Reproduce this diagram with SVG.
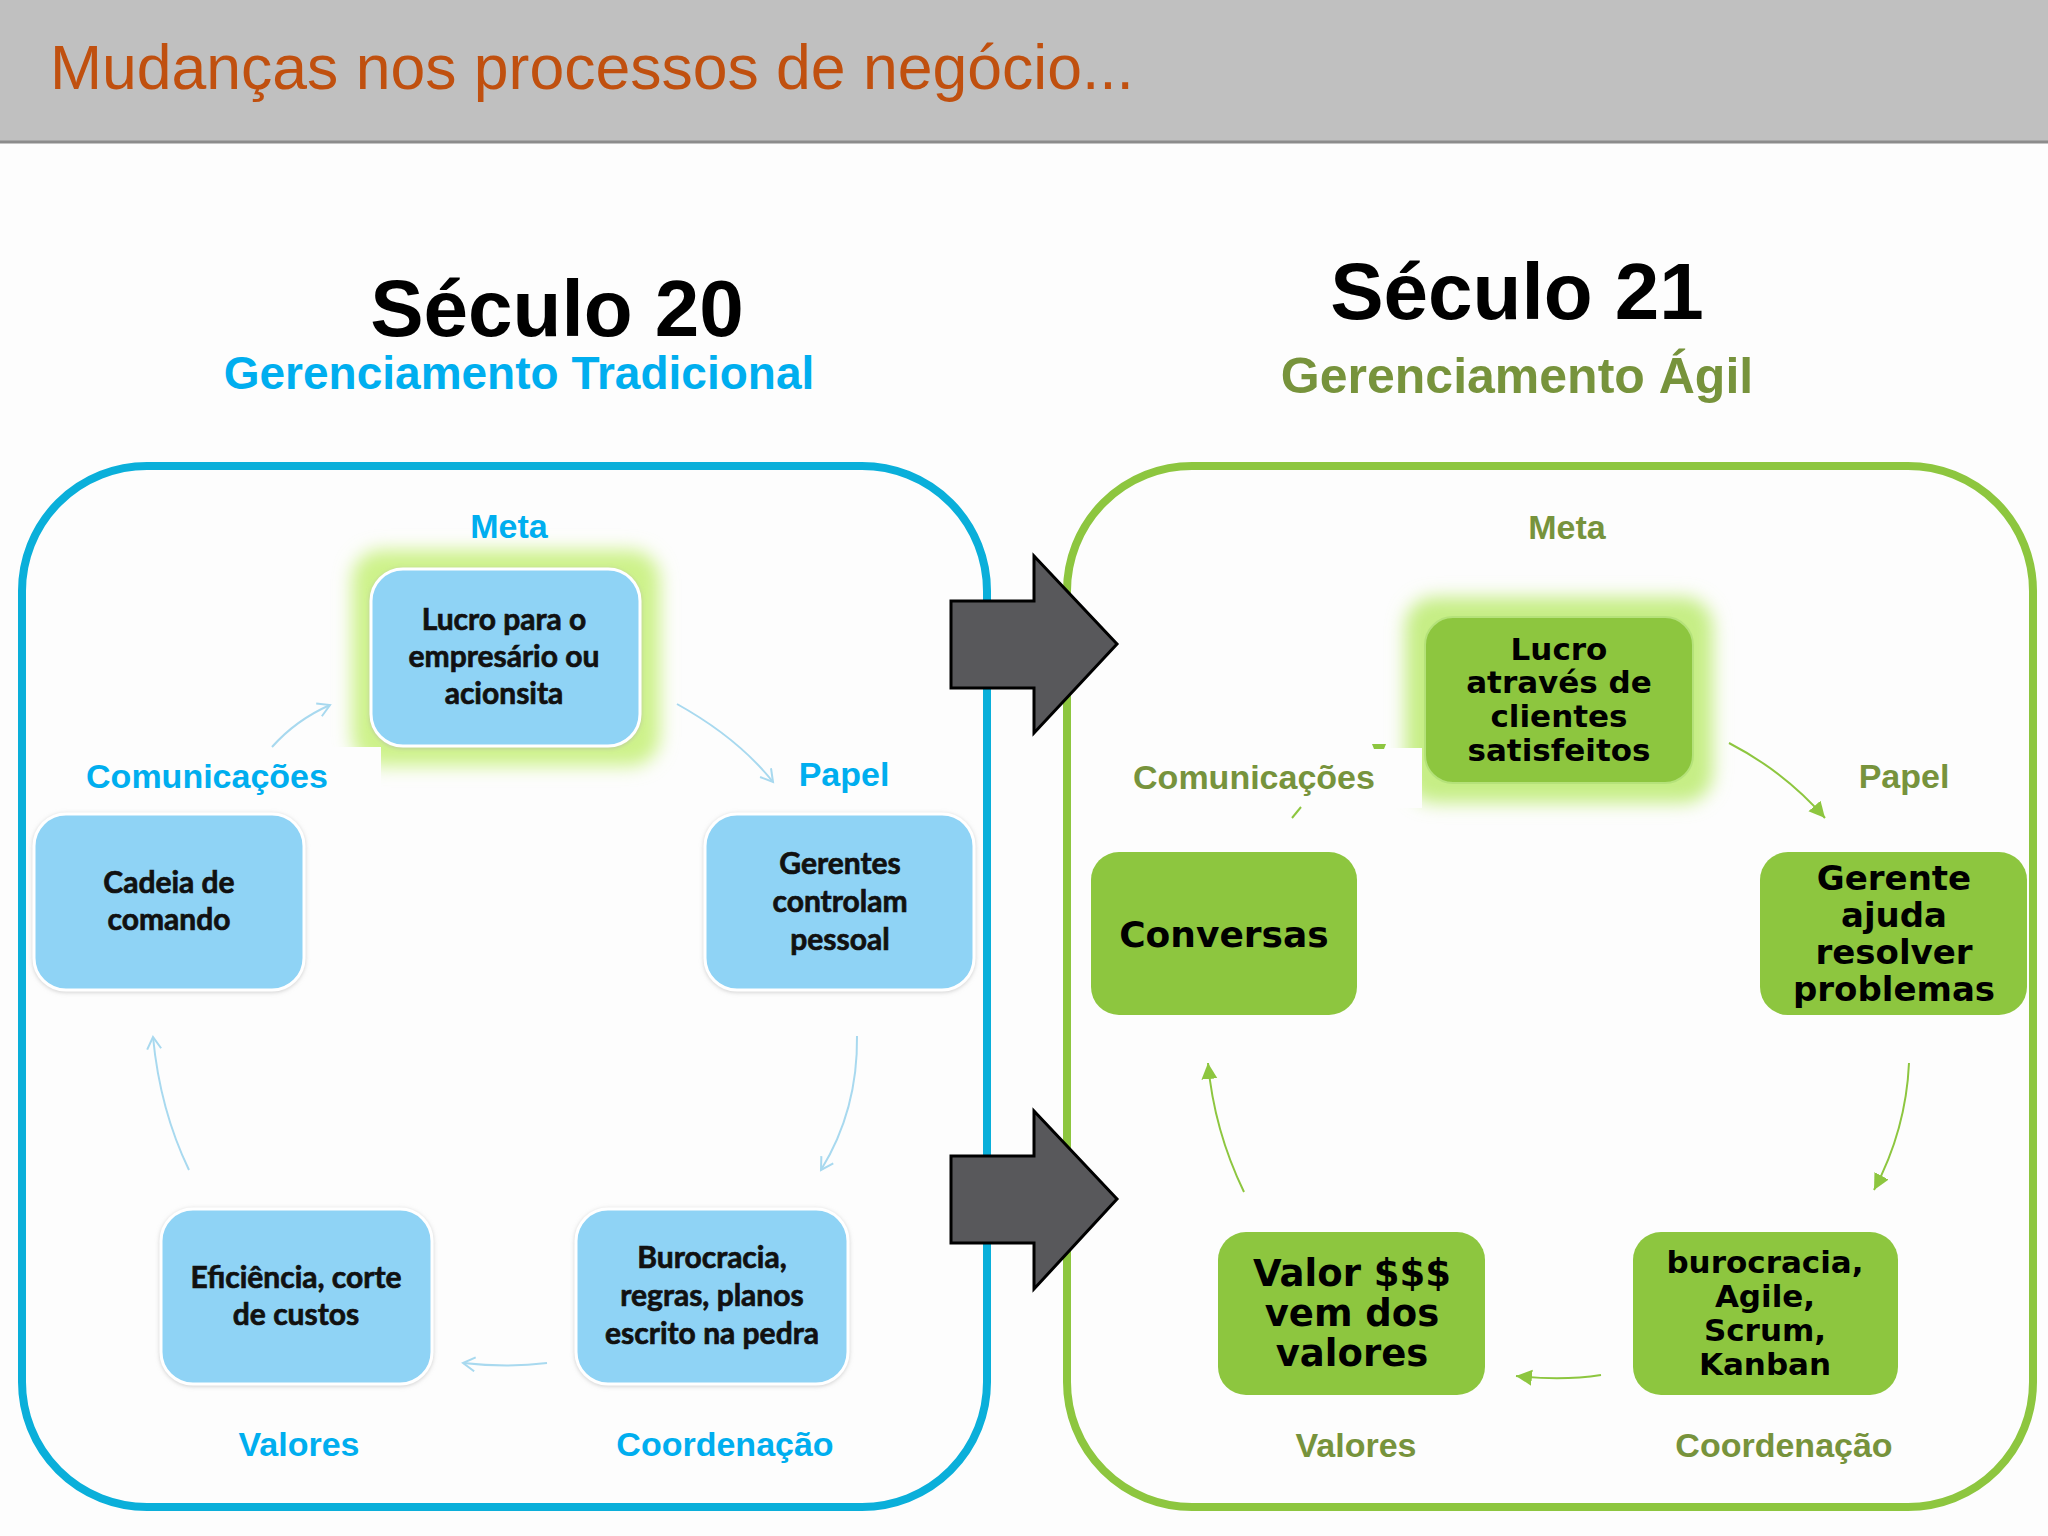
<svg xmlns="http://www.w3.org/2000/svg" width="2048" height="1536" viewBox="0 0 2048 1536">
<defs>
<style>
.ttl{font-family:"Liberation Sans",Arial,sans-serif;font-weight:bold;text-anchor:middle}
.lbB{font-family:"Liberation Sans",Arial,sans-serif;font-weight:bold;font-size:34px;fill:#00AEEF;text-anchor:middle}
.lbG{font-family:"Liberation Sans",Arial,sans-serif;font-weight:bold;font-size:34px;fill:#77933C;text-anchor:middle}
.nB{fill:#8FD3F5;stroke:#ffffff;stroke-width:3}
.nG{fill:#8DC63F}
.tB{font-family:Lato,"Open Sans",sans-serif;font-weight:bold;font-size:30px;fill:#111;stroke:#111;stroke-width:0.7;text-anchor:middle}
.tG{font-family:"DejaVu Sans",sans-serif;font-weight:bold;fill:#000;text-anchor:middle}
.cB{fill:none;stroke:#A8D9EF;stroke-width:2}
.cG{fill:none;stroke:#8DC63F;stroke-width:2}
.big{fill:#58585B;stroke:#000;stroke-width:3;stroke-linejoin:miter}
</style>
<filter id="glow" x="-30%" y="-30%" width="160%" height="160%"><feGaussianBlur stdDeviation="9"/></filter>
<filter id="sh" x="-10%" y="-10%" width="120%" height="120%"><feDropShadow dx="0" dy="1" stdDeviation="2" flood-color="#b0b0b0" flood-opacity="0.6"/></filter>
<marker id="aO" markerUnits="userSpaceOnUse" markerWidth="20" markerHeight="20" refX="14" refY="8" orient="auto"><path d="M2,1 L14,8 L2,15" fill="none" stroke="#A8D9EF" stroke-width="2"/></marker>
<marker id="aF" markerUnits="userSpaceOnUse" markerWidth="20" markerHeight="20" refX="16" refY="8" orient="auto"><path d="M0,0 L16,8 L0,16 Z" fill="#8DC63F"/></marker>
</defs>
<rect width="2048" height="1536" fill="#FDFDFD"/>
<!-- header -->
<rect x="0" y="0" width="2048" height="142" fill="#C0C0C0"/>
<line x1="0" y1="142" x2="2048" y2="142" stroke="#8C8C8C" stroke-width="3"/>
<text x="50" y="89" font-family="Liberation Sans,Arial,sans-serif" font-size="62.5" fill="#C0500F">Mudanças nos processos de negócio...</text>
<!-- titles -->
<text class="ttl" x="557" y="336" font-size="80" fill="#000">Século 20</text>
<text class="ttl" x="519" y="389" font-size="46" fill="#00AEEF">Gerenciamento Tradicional</text>
<text class="ttl" x="1517" y="319" font-size="80" fill="#000">Século 21</text>
<text class="ttl" x="1517" y="393" font-size="50" fill="#77933C">Gerenciamento Ágil</text>
<!-- containers -->
<rect x="22" y="466" width="965" height="1041" rx="125" ry="125" fill="none" stroke="#0AAFDA" stroke-width="8"/>
<rect x="1067" y="466" width="966" height="1041" rx="125" ry="125" fill="none" stroke="#8DC63F" stroke-width="8"/>
<!-- big arrows -->
<g id="arrow1"><path class="big" d="M951,601 L1034,601 L1034,556 L1117,644 L1034,733 L1034,688 L951,688 Z"/></g>
<g id="arrow2"><path class="big" d="M951,1156 L1034,1156 L1034,1111 L1117,1199 L1034,1289 L1034,1243 L951,1243 Z"/></g>
<!-- glows -->
<rect x="352" y="550" width="308" height="216" rx="30" fill="#CDF28A" filter="url(#glow)"/>
<rect x="1405" y="597" width="308" height="206" rx="30" fill="#C6EE85" filter="url(#glow)"/>
<rect x="70" y="747" width="311" height="60" fill="#FDFDFD"/>
<rect x="1100" y="748" width="322" height="60" fill="#FDFDFD"/>
<path d="M1372,744 L1386,744 L1384,749 L1374,749 Z" fill="#8DC63F"/>
<!-- connectors -->
<g id="connectors">
<path class="cB" d="M272,747 Q296,720 330,705" marker-end="url(#aO)"/>
<path class="cB" d="M677,704 Q738,738 773,782" marker-end="url(#aO)"/>
<path class="cB" d="M857,1036 Q858,1110 821,1170" marker-end="url(#aO)"/>
<path class="cB" d="M547,1363 Q508,1368 463,1363" marker-end="url(#aO)"/>
<path class="cB" d="M189,1170 Q160,1110 153,1037" marker-end="url(#aO)"/>
<path class="cG" d="M1729,743 Q1785,772 1825,818" marker-end="url(#aF)"/>
<path class="cG" d="M1909,1063 Q1906,1130 1874,1190" marker-end="url(#aF)"/>
<path class="cG" d="M1601,1375 Q1563,1381 1516,1376" marker-end="url(#aF)"/>
<path class="cG" d="M1244,1192 Q1214,1130 1208,1063" marker-end="url(#aF)"/>
<line x1="1292" y1="818" x2="1301" y2="807" stroke="#8DC63F" stroke-width="2"/>
</g>
<!-- left labels -->
<text class="lbB" x="509" y="538">Meta</text>
<text class="lbB" x="207" y="788">Comunicações</text>
<text class="lbB" x="844" y="786">Papel</text>
<text class="lbB" x="299" y="1456">Valores</text>
<text class="lbB" x="725" y="1456">Coordenação</text>
<!-- right labels -->
<text class="lbG" x="1567" y="539">Meta</text>
<text class="lbG" x="1254" y="789">Comunicações</text>
<text class="lbG" x="1904" y="788">Papel</text>
<text class="lbG" x="1356" y="1457">Valores</text>
<text class="lbG" x="1784" y="1457">Coordenação</text>
<!-- left nodes -->
<g id="n-lucro-trad"><rect class="nB" x="371" y="569" width="269" height="177" rx="32" filter="url(#sh)"/>
<text class="tB" x="504" y="630">Lucro para o</text><text class="tB" x="504" y="667">empresário ou</text><text class="tB" x="504" y="704">acionsita</text></g>
<g id="n-cadeia"><rect class="nB" x="34" y="814" width="270" height="176" rx="32" filter="url(#sh)"/>
<text class="tB" x="169" y="893">Cadeia de</text><text class="tB" x="169" y="930">comando</text></g>
<g id="n-gerentes"><rect class="nB" x="705" y="814" width="269" height="176" rx="32" filter="url(#sh)"/>
<text class="tB" x="840" y="874">Gerentes</text><text class="tB" x="840" y="912">controlam</text><text class="tB" x="840" y="950">pessoal</text></g>
<g id="n-eficiencia"><rect class="nB" x="161" y="1209" width="271" height="175" rx="32" filter="url(#sh)"/>
<text class="tB" x="296" y="1288">Eficiência, corte</text><text class="tB" x="296" y="1325">de custos</text></g>
<g id="n-burocracia-trad"><rect class="nB" x="576" y="1209" width="272" height="175" rx="32" filter="url(#sh)"/>
<text class="tB" x="712" y="1268">Burocracia,</text><text class="tB" x="712" y="1306">regras, planos</text><text class="tB" x="712" y="1344">escrito na pedra</text></g>
<!-- right nodes -->
<g id="n-lucro-agil"><rect class="nG" x="1425" y="617" width="268" height="166" rx="28" stroke="#B5E27A" stroke-width="2"/>
<g class="tG" font-size="31"><text x="1559" y="660">Lucro</text><text x="1559" y="693">através de</text><text x="1559" y="727">clientes</text><text x="1559" y="761">satisfeitos</text></g></g>
<g id="n-conversas"><rect class="nG" x="1091" y="852" width="266" height="163" rx="28"/>
<text class="tG" x="1224" y="947" font-size="36">Conversas</text></g>
<g id="n-gerente"><rect class="nG" x="1760" y="852" width="267" height="163" rx="28"/>
<g class="tG" font-size="34"><text x="1894" y="890">Gerente</text><text x="1894" y="927">ajuda</text><text x="1894" y="964">resolver</text><text x="1894" y="1001">problemas</text></g></g>
<g id="n-valor"><rect class="nG" x="1218" y="1232" width="267" height="163" rx="28"/>
<g class="tG" font-size="37"><text x="1352" y="1286">Valor $$$</text><text x="1352" y="1326">vem dos</text><text x="1352" y="1366">valores</text></g></g>
<g id="n-burocracia-agil"><rect class="nG" x="1633" y="1232" width="265" height="163" rx="28"/>
<g class="tG" font-size="31"><text x="1765" y="1273">burocracia,</text><text x="1765" y="1307">Agile,</text><text x="1765" y="1341">Scrum,</text><text x="1765" y="1375">Kanban</text></g></g>
</svg>
